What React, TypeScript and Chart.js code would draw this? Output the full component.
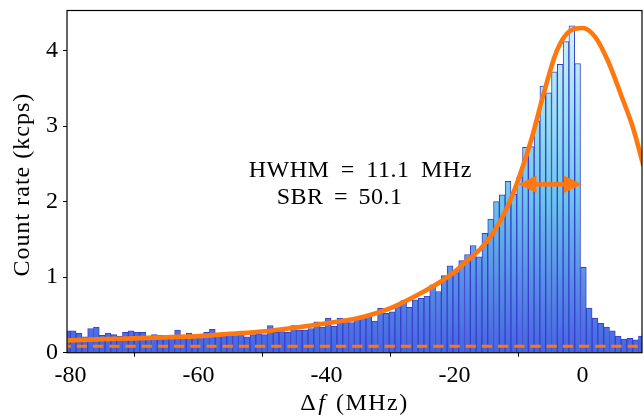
import React, { useEffect, useRef } from "react";
import { Chart, registerables } from "chart.js";

Chart.register(...registerables);

// ---- data ----
const BIN_START = -80.944; // MHz, left edge of first histogram bin
const BIN_WIDTH = 0.906; // MHz
const COUNT_RATE = [
  0.29, 0.29, 0.26, 0.21, 0.32, 0.34, 0.23, 0.26, 0.24, 0.22,
  0.27, 0.29, 0.27, 0.27, 0.22, 0.24, 0.23, 0.22, 0.22, 0.30,
  0.23, 0.26, 0.24, 0.21, 0.27, 0.31, 0.25, 0.25, 0.25, 0.25,
  0.24, 0.21, 0.24, 0.25, 0.24, 0.36, 0.27, 0.28, 0.27, 0.36,
  0.30, 0.30, 0.32, 0.41, 0.34, 0.46, 0.35, 0.46, 0.45, 0.40,
  0.46, 0.48, 0.50, 0.42, 0.59, 0.52, 0.54, 0.61, 0.69, 0.60,
  0.70, 0.72, 0.75, 0.90, 0.81, 1.02, 1.15, 1.06, 1.22, 1.30,
  1.42, 1.27, 1.58, 1.77, 2.00, 2.09, 2.27, 2.10, 2.33, 2.72,
  2.73, 3.07, 3.53, 3.44, 3.72, 3.82, 4.12, 4.33, 3.83, 1.13,
  0.59, 0.46, 0.39, 0.34, 0.29, 0.22, 0.18, 0.19, 0.17, 0.22,
];

const FIT_X = [-81, -75, -70, -65, -60, -55, -50, -45, -40, -35, -30, -25, -22, -20, -18, -16, -14, -12, -10, -8, -6, -4, -2, 0, 2, 4, 6, 8, 9.5];
const FIT_Y = [0.16, 0.18, 0.19, 0.205, 0.22, 0.25, 0.28, 0.33, 0.39, 0.46, 0.59, 0.8, 0.95, 1.07, 1.22, 1.37, 1.58, 1.88, 2.3, 2.82, 3.45, 4.0, 4.26, 4.3, 4.18, 3.86, 3.42, 2.95, 2.48];

const BACKGROUND_LEVEL = 0.085;

const X_TICKS = [-80, -60, -40, -20, 0];
const Y_TICKS = [0, 1, 2, 3, 4];
const X_MIN = -80.55;
const X_MAX = 9.3;
const Y_MIN = 0;
const Y_MAX = 4.532;

const ARROW_FROM = -10.0;
const ARROW_TO = -0.1;
const ARROW_LEVEL = 2.23;

const ANNOTATION_LINES = ["HWHM = 11.1 MHz", "SBR = 50.1"];
const ANNOTATION_X = [-52.16, -47.78];
const ANNOTATION_Y = [2.323, 1.97];

const X_TITLE = ["\u0394", "f", " (MHz)"];
const Y_TITLE = "Count rate (kcps)";

// ---- styles ----
const FONT = '"Liberation Serif", "Times New Roman", serif';
const ORANGE = "#ff770f";
const EDGE = "rgb(55, 62, 205)";
const W = 644;
const H = 417;

function barGradient(chart: any) {
  const y = chart.scales.y;
  const g = chart.ctx.createLinearGradient(0, y.getPixelForValue(0), 0, y.getPixelForValue(4.4));
  g.addColorStop(0, "rgb(70, 100, 225)");
  g.addColorStop(0.2, "rgb(85, 140, 230)");
  g.addColorStop(0.45, "rgb(105, 195, 235)");
  g.addColorStop(0.7, "rgb(150, 222, 242)");
  g.addColorStop(1, "rgb(212, 244, 251)");
  return g;
}

function drawSpaced(ctx: CanvasRenderingContext2D, text: string, x: number, y: number, extra: number) {
  const words = text.split(" ");
  const sp = ctx.measureText(" ").width + extra;
  let cx = x;
  words.forEach((w) => {
    ctx.fillText(w, cx, y);
    cx += ctx.measureText(w).width + sp;
  });
}

const overlayPlugin = {
  id: "overlay",
  afterDatasetsDraw(chart: any) {
    const { ctx, scales } = chart;
    const x = scales.x;
    const y = scales.y;
    const xa = x.getPixelForValue(ARROW_FROM);
    const xb = x.getPixelForValue(ARROW_TO);
    const ya = y.getPixelForValue(ARROW_LEVEL);
    const head = 18;
    const half = 8.8;
    ctx.save();
    ctx.strokeStyle = ORANGE;
    ctx.fillStyle = ORANGE;
    ctx.lineWidth = 4.5;
    ctx.beginPath();
    ctx.moveTo(xa + head - 2, ya);
    ctx.lineTo(xb - head + 2, ya);
    ctx.stroke();
    ctx.beginPath();
    ctx.moveTo(xa, ya);
    ctx.lineTo(xa + head, ya - half);
    ctx.lineTo(xa + head, ya + half);
    ctx.closePath();
    ctx.fill();
    ctx.beginPath();
    ctx.moveTo(xb, ya);
    ctx.lineTo(xb - head, ya - half);
    ctx.lineTo(xb - head, ya + half);
    ctx.closePath();
    ctx.fill();
    ctx.restore();
  },
  afterDraw(chart: any) {
    const { ctx, chartArea: a, scales } = chart;
    const x = scales.x;
    const y = scales.y;
    ctx.save();
    // frame
    ctx.strokeStyle = "#000";
    ctx.lineWidth = 1.2;
    ctx.strokeRect(a.left, a.top, a.right - a.left, a.bottom - a.top);

    // annotation
    ctx.fillStyle = "#000";
    ctx.font = `24px ${FONT}`;
    ctx.textBaseline = "alphabetic";
    ctx.textAlign = "left";
    (ctx as any).letterSpacing = "0.5px";
    drawSpaced(ctx, ANNOTATION_LINES[0], x.getPixelForValue(ANNOTATION_X[0]), y.getPixelForValue(ANNOTATION_Y[0]), 5);
    drawSpaced(ctx, ANNOTATION_LINES[1], x.getPixelForValue(ANNOTATION_X[1]), y.getPixelForValue(ANNOTATION_Y[1]), 4);

    // x title with italic f
    (ctx as any).letterSpacing = "1.5px";
    ctx.textBaseline = "middle";
    const normal = `24px ${FONT}`;
    const italic = `italic 24px ${FONT}`;
    ctx.font = normal;
    const w0 = ctx.measureText(X_TITLE[0]).width;
    const w2 = ctx.measureText(X_TITLE[2]).width;
    ctx.font = italic;
    const w1 = ctx.measureText(X_TITLE[1]).width + 3;
    const total = w0 + w1 + w2;
    let cx = (a.left + a.right) / 2 - total / 2;
    const ty = 404;
    ctx.font = normal;
    ctx.fillText(X_TITLE[0], cx, ty);
    cx += w0;
    ctx.font = italic;
    ctx.fillText(X_TITLE[1], cx + 1, ty);
    cx += w1;
    ctx.font = normal;
    ctx.fillText(X_TITLE[2], cx, ty);

    // y title
    (ctx as any).letterSpacing = "1px";
    ctx.translate(23, (a.top + a.bottom) / 2 + 3);
    ctx.rotate(-Math.PI / 2);
    ctx.textAlign = "center";
    ctx.fillText(Y_TITLE, 0, 0);
    ctx.restore();
  },
};

export default function App() {
  const ref = useRef<HTMLCanvasElement | null>(null);

  useEffect(() => {
    if (!ref.current) return;
    const bars = COUNT_RATE.map((v, i) => ({ x: BIN_START + BIN_WIDTH * (i + 0.5), y: v }));
    const fit = FIT_X.map((xv, i) => ({ x: xv, y: FIT_Y[i] }));
    const base = [
      { x: X_MIN - 1, y: BACKGROUND_LEVEL },
      { x: X_MAX + 1, y: BACKGROUND_LEVEL },
    ];
    const chart = new Chart(ref.current, {
      type: "bar",
      data: {
        datasets: [
          {
            type: "line",
            data: base,
            borderColor: ORANGE,
            borderWidth: 3,
            borderDash: [10.3, 5.9],
            pointRadius: 0,
            fill: false,
            order: 0,
          } as any,
          {
            type: "line",
            data: fit,
            borderColor: ORANGE,
            borderWidth: 4.6,
            pointRadius: 0,
            fill: false,
            cubicInterpolationMode: "monotone",
            order: 1,
          } as any,
          {
            type: "bar",
            data: bars,
            backgroundColor: (c: any) => {
              if (!c.chart.chartArea) return "rgb(70,100,225)";
              return barGradient(c.chart);
            },
            borderColor: EDGE,
            borderWidth: 1,
            barPercentage: 1,
            categoryPercentage: 1,
            grouped: false,
            order: 2,
          } as any,
        ],
      },
      options: {
        animation: false,
        responsive: false,
        events: [],
        layout: { padding: { top: 10.5, right: 2, left: 0, bottom: 0 } },
        plugins: { legend: { display: false }, tooltip: { enabled: false } },
        scales: {
          x: {
            type: "linear",
            min: X_MIN,
            max: X_MAX,
            offset: false,
            afterBuildTicks: (s: any) => {
              s.ticks = X_TICKS.map((v) => ({ value: v }));
            },
            afterFit: (s: any) => {
              s.height = H - 352.7;
              s.paddingLeft = 0;
              s.paddingRight = 0;
              s.paddingTop = 0;
              s.paddingBottom = 0;
            },
            grid: { drawOnChartArea: false, drawTicks: true, tickLength: 4, color: "#000", tickWidth: 1 },
            border: { display: false },
            ticks: {
              font: { family: FONT, size: 24 },
              color: "#000",
              padding: 5,
              maxRotation: 0,
              autoSkip: false,
              callback: (v: any) => String(v),
            },
          },
          y: {
            type: "linear",
            min: Y_MIN,
            max: Y_MAX,
            afterBuildTicks: (s: any) => {
              s.ticks = Y_TICKS.map((v) => ({ value: v }));
            },
            afterFit: (s: any) => {
              s.width = 67;
              s.paddingLeft = 0;
              s.paddingRight = 0;
              s.paddingTop = 0;
              s.paddingBottom = 0;
            },
            grid: { drawOnChartArea: false, drawTicks: true, tickLength: 4, color: "#000", tickWidth: 1 },
            border: { display: false },
            ticks: {
              font: { family: FONT, size: 24 },
              color: "#000",
              padding: 5,
              autoSkip: false,
              callback: (v: any) => String(v),
            },
          },
        },
      } as any,
      plugins: [overlayPlugin],
    });
    return () => chart.destroy();
  }, []);

  return (
    <div style={{ position: "fixed", left: 0, top: 0, width: W, height: H, background: "#fff" }}>
      <canvas ref={ref} width={W} height={H} style={{ width: W, height: H, display: "block" }} />
    </div>
  );
}
